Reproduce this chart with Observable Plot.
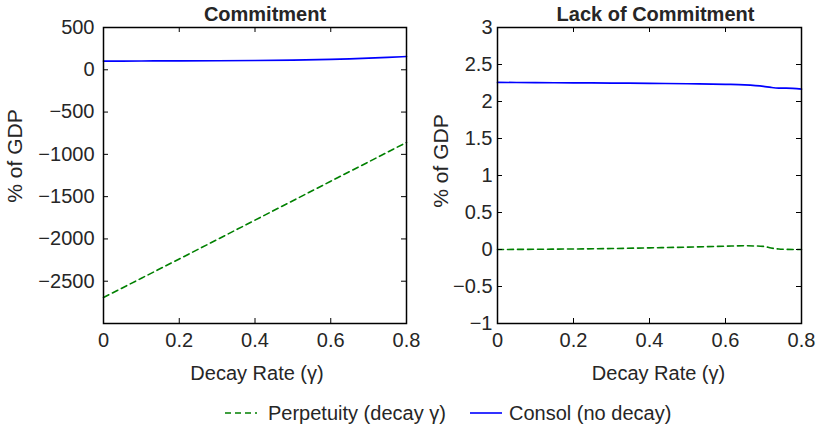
<!DOCTYPE html>
<html><head><meta charset="utf-8">
<script src="https://cdn.jsdelivr.net/npm/d3@7"></script>
<script src="https://cdn.jsdelivr.net/npm/@observablehq/plot@0.6"></script>
<style>
body{margin:0;background:#fff;font-family:"Liberation Sans",Arial,sans-serif;color:#262626;}
#wrap{position:relative;width:817px;height:429px;overflow:hidden;background:#fff;}
#left,#right{position:absolute;top:0}
#left{left:0}
#right{left:412px}
.ylab{position:absolute;font-size:21px;white-space:nowrap;transform:translate(-50%,-50%) rotate(-90deg);line-height:1;}
#legend{position:absolute;top:400px;left:0;width:817px;height:26px;font-size:20px;}
#legend .item{position:absolute;top:0;display:flex;align-items:center;height:26px;white-space:nowrap;}
#legend svg{display:block}
</style>
</head><body>
<div id="wrap"><div id="left"></div><div id="right"></div><div id="legend"></div></div>
<script>
// ---- data ----
const gamma = [0, 0.1, 0.2, 0.3, 0.4, 0.5, 0.6, 0.65, 0.7, 0.75, 0.8];
const consolCommit = [103, 104, 105, 107, 110, 115, 123, 129, 137, 146, 157];
const perpCommit = [-2692, -2465, -2237, -2008, -1778, -1548, -1318, -1203, -1089, -974, -859];
const gammaLack = [0, 0.1, 0.2, 0.3, 0.4, 0.5, 0.6, 0.65, 0.7, 0.72, 0.74, 0.76, 0.8];
const consolLack = [2.258, 2.255, 2.252, 2.249, 2.245, 2.240, 2.232, 2.225, 2.205, 2.19, 2.182, 2.182, 2.168];
const perpLack = [0, 0.003, 0.007, 0.013, 0.022, 0.032, 0.045, 0.05, 0.042, 0.02, 0.006, 0.002, 0];
const xTicks = [0, 0.2, 0.4, 0.6, 0.8];
const yTicksCommit = [500, 0, -500, -1000, -1500, -2000, -2500];
const yTicksLack = [3, 2.5, 2, 1.5, 1, 0.5, 0, -0.5, -1];
const seriesNames = ["Perpetuity (decay \u03b3)", "Consol (no decay)"];
const titles = ["Commitment", "Lack of Commitment"];
const xLabel = "Decay Rate (\u03b3)";
const yLabel = "% of GDP";

const GREEN = "#008000", BLUE = "#0000ff", TXT = "#262626";
const H = 392, MT = 27, MB = 69, PH = H - MT - MB;

function panel(o) {
  const pw = o.width - o.ml - o.mr;
  const perp = o.gx.map((g, i) => ({g, v: o.perp[i]}));
  const cons = o.gx.map((g, i) => ({g, v: o.cons[i]}));
  const innerX = xTicks.slice(1, -1);
  const innerY = o.yTicks.filter(t => t > o.yDomain[0] && t < o.yDomain[1]);
  return Plot.plot({
    width: o.width, height: H, marginLeft: o.ml, marginRight: o.mr, marginTop: MT, marginBottom: MB,
    style: {fontFamily: "Liberation Sans, Arial, sans-serif", fontSize: "20px", color: TXT, background: "transparent", overflow: "visible"},
    x: {domain: [0, 0.8]},
    y: {domain: o.yDomain},
    marks: [
      Plot.line(perp, {x: "g", y: "v", stroke: GREEN, strokeWidth: 1.6, strokeDasharray: "6,4", curve: "monotone-x"}),
      Plot.line(cons, {x: "g", y: "v", stroke: BLUE, strokeWidth: 1.7, curve: "monotone-x"}),
      Plot.tickX(innerX, {x: d => d, insetBottom: PH - 5, stroke: "black", strokeWidth: 1}),
      Plot.tickX(innerX, {x: d => d, insetTop: PH - 5, stroke: "black", strokeWidth: 1}),
      Plot.tickY(innerY, {y: d => d, insetRight: pw - 5, stroke: "black", strokeWidth: 1}),
      Plot.tickY(innerY, {y: d => d, insetLeft: pw - 5, stroke: "black", strokeWidth: 1}),
      Plot.frame({stroke: "black", strokeWidth: 1.5}),
      Plot.axisX({ticks: xTicks, tickSize: 0, tickPadding: 9, tickFormat: d3.format(""), label: null, fontSize: 20, fill: TXT}),
      Plot.axisY({ticks: o.yTicks, tickSize: 0, tickPadding: o.yPad, tickFormat: d3.format(""), label: null, fontSize: 20, fill: TXT}),
      Plot.text([o.title], {text: d => d, frameAnchor: "top", lineAnchor: "bottom", dy: -7, dx: o.titleDx, fontSize: 20, fontWeight: "bold", fill: TXT}),
      Plot.text([xLabel], {text: d => d, frameAnchor: "bottom", lineAnchor: "middle", dy: 50, dx: o.xlabDx, fontSize: 20, fill: TXT})
    ]
  });
}

document.getElementById("left").append(panel({
  width: 412, ml: 103, mr: 6, yDomain: [-3000, 500], yTicks: yTicksCommit, yPad: 9,
  gx: gamma, perp: perpCommit, cons: consolCommit, title: titles[0],
  titleDx: 10, xlabDx: 2
}));
document.getElementById("right").append(panel({
  width: 405, ml: 85, mr: 16, yDomain: [-1, 3], yTicks: yTicksLack, yPad: 5,
  gx: gammaLack, perp: perpLack, cons: consolLack, title: titles[1],
  titleDx: 6, xlabDx: 9
}));

// y-axis labels
const wrap = document.getElementById("wrap");
for (const [cx, cy] of [[14, 156], [440, 161]]) {
  const d = document.createElement("div");
  d.className = "ylab";
  d.style.left = cx + "px";
  d.style.top = cy + "px";
  d.textContent = yLabel;
  wrap.append(d);
}

// legend
const leg = document.getElementById("legend");
const items = [
  {name: seriesNames[0], color: GREEN, dash: "6,4", x: 225},
  {name: seriesNames[1], color: BLUE, dash: null, x: 470}
];
for (const it of items) {
  const div = document.createElement("div");
  div.className = "item";
  div.style.left = it.x + "px";
  div.innerHTML = `<svg width="33" height="10"><line x1="0" y1="5" x2="32" y2="5" stroke="${it.color}" stroke-width="1.6" ${it.dash ? `stroke-dasharray="${it.dash}"` : ""}/></svg><span style="margin-left:${it.dash ? 10 : 6}px">${it.name}</span>`;
  leg.append(div);
}
</script>
</body></html>
